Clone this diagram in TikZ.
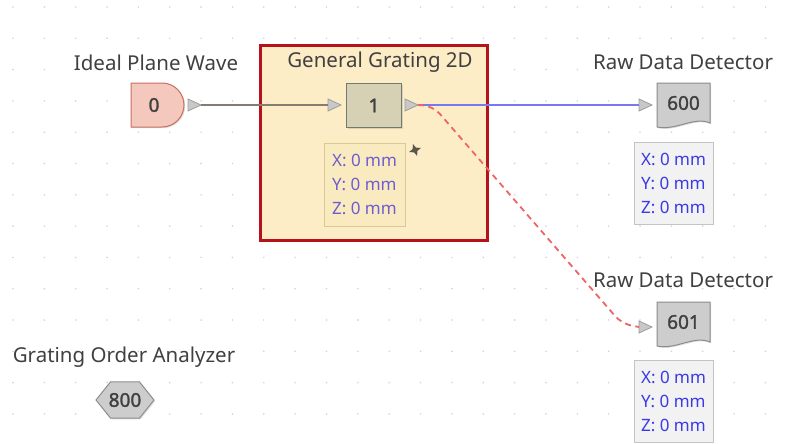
\documentclass[tikz,border=0pt]{standalone}
\usepackage{fontspec}
\setmainfont{Noto Sans}
\newfontfamily\numfont[FakeBold=1.6]{Noto Sans}
\usetikzlibrary{shapes.geometric,shadows}
\definecolor{grpfill}{HTML}{FDEDC6}
\definecolor{grpborder}{HTML}{B5121B}
\definecolor{labtxt}{HTML}{404040}
\definecolor{srcfill}{HTML}{F5C8BE}
\definecolor{srcborder}{HTML}{C8705F}
\definecolor{gfill}{HTML}{D6D0B4}
\definecolor{gborder}{HTML}{6E7B6E}
\definecolor{gray1}{HTML}{CDCDCD}
\definecolor{gray2}{HTML}{8C8C8C}
\definecolor{infofill}{HTML}{F2F2F2}
\definecolor{infoborder}{HTML}{C4C4C4}
\definecolor{infotxt}{HTML}{3A3AE6}
\definecolor{ginfofill}{HTML}{FAEAC0}
\definecolor{ginfoborder}{HTML}{D9C994}
\definecolor{ginfotxt}{HTML}{6E5ED0}
\definecolor{blueline}{HTML}{7878F0}
\definecolor{redline}{HTML}{F06464}
\definecolor{brline}{HTML}{847C70}
\definecolor{portfill}{HTML}{C8C8C8}
\definecolor{portborder}{HTML}{9C9C9C}
\definecolor{dotc}{HTML}{D4D4D4}
\tikzset{
  lab/.style={text=labtxt, font=\fontsize{20.5}{22}\selectfont, inner sep=0pt, anchor=center},
  num/.style={text=labtxt, font=\numfont\fontsize{19}{20}\selectfont},
  infobox/.style={draw=infoborder, fill=infofill, line width=1pt, text=infotxt,
    font=\fontsize{17}{24}\selectfont, align=left, minimum width=79pt, minimum height=82pt, inner sep=4pt},
  ginfobox/.style={infobox, draw=ginfoborder, fill=ginfofill, text=ginfotxt},
  port/.style={draw=portborder, fill=portfill, line width=0.8pt},
  shad/.style={drop shadow={opacity=0.25, shadow xshift=1.2pt, shadow yshift=-1.2pt}},
}
\begin{document}
\begin{tikzpicture}[x=1pt,y=-1pt]
\useasboundingbox (0,0) rectangle (795,444);
\fill[white] (0,0) rectangle (795,444);
% dot grid
\foreach \i in {0,...,25} {
  \foreach \j in {0,...,14} {
    \fill[dotc] (13+\i*31.35, 7+\j*31.3) circle (0.9pt);
  }
}
% group box
\node[draw=grpborder, fill=grpfill, line width=2.5pt, minimum width=227pt, minimum height=195pt, inner sep=0pt] (grp) at (374,143) {};
\node[lab] (lgrp) at (380,62) {General Grating 2D};
% source node 0
\draw[srcborder, fill=srcfill, line width=1pt, shad] (131,83) -- (162,83) arc[start angle=90, end angle=-90, radius=22pt] -- (131,127) -- cycle;
\node[num] (n0) at (154,105) {0};
\node[lab] (l0) at (156,63) {Ideal Plane Wave};
\coordinate (o0) at (201,105);
\draw[port] (188,99) -- (201,105) -- (188,111) -- cycle;
% node 1
\node[draw=gborder, fill=gfill, line width=1.2pt, minimum width=55pt, minimum height=44pt, inner sep=0pt, num, shad] (n1) at (374,105.5) {1};
\coordinate (i1) at (328,105);
\draw[port] (328,99) -- (341,105) -- (328,111) -- cycle;
\coordinate (o1) at (418,105);
\draw[port] (405,99) -- (418,105) -- (405,111) -- cycle;
\node[ginfobox, minimum width=81pt, minimum height=83pt] (inf1) at (364.5,184.5) {X: 0 mm\\Y: 0 mm\\Z: 0 mm};
% small pin icon
\node[star, star points=4, star point ratio=2.6, fill=brline!70!black, inner sep=0pt, minimum size=13pt, rotate=20] (pin) at (415,150) {};
% connector 0 -> 1
\draw[brline, line width=1.4pt] (o0) -- (i1);
% node 600
\draw[gray2, fill=gray1, line width=1pt, shad] (657,83) -- (710,83) -- (710,123) .. controls (694,116) and (676,131) .. (657,127) -- cycle;
\node[num] (n600) at (683.5,103) {600};
\node[lab] (l600) at (683,62) {Raw Data Detector};
\coordinate (i600) at (639,105);
\draw[port] (639,99) -- (652,105) -- (639,111) -- cycle;
\node[infobox] (inf600) at (673.5,183.5) {X: 0 mm\\Y: 0 mm\\Z: 0 mm};
% node 601
\draw[gray2, fill=gray1, line width=1pt, shad] (657,302) -- (710,302) -- (710,342) .. controls (694,335) and (676,350) .. (657,346) -- cycle;
\node[num] (n601) at (683.5,322) {601};
\node[lab] (l601) at (683,280) {Raw Data Detector};
\coordinate (i601) at (639,327);
\draw[port] (639,321) -- (652,327) -- (639,333) -- cycle;
\node[infobox] (inf601) at (673.5,401) {X: 0 mm\\Y: 0 mm\\Z: 0 mm};
% node 800
\node[regular polygon, regular polygon sides=6, draw=gray2, fill=gray1, line width=1pt, minimum size=58pt, inner sep=0pt, shad, yscale=0.72] (n800) at (125,400) {};
\node[num] (t800) at (125,400) {800};
\node[lab] (l800) at (124,357) {Grating Order Analyzer};
% connectors
\draw[blueline, line width=1.4pt] (o1) -- (i600);
\draw[redline, line width=1.8pt, dash pattern=on 6pt off 4.5pt, rounded corners=10pt] (o1) -- (433,106) -- (622,324) -- (i601);
\end{tikzpicture}
\end{document}
